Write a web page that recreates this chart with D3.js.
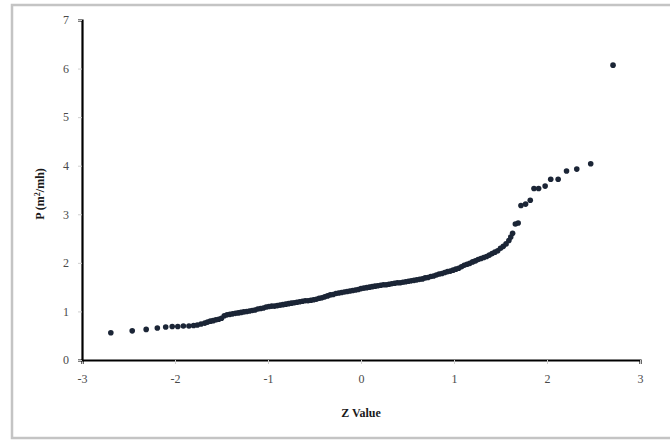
<!DOCTYPE html>
<html>
<head>
<meta charset="utf-8">
<script src="https://cdn.jsdelivr.net/npm/d3@7"></script>
<style>
  body { margin: 0; background: #fff; }
</style>
</head>
<body>
<script>
// normal probability plot values
var zValues = [
  -2.69, -2.46, -2.31, -2.19, -2.10, -2.03, -1.97, -1.91, -1.85, -1.80, -1.76, -1.72, -1.68, -1.65,
  -1.62, -1.59, -1.56, -1.53, -1.50, -1.47, -1.44, -1.41, -1.38, -1.35, -1.32, -1.29, -1.26, -1.23,
  -1.20, -1.17, -1.14, -1.11, -1.08, -1.05, -1.02, -0.99, -0.96, -0.93, -0.90, -0.87, -0.84, -0.81,
  -0.78, -0.75, -0.72, -0.69, -0.66, -0.63, -0.60, -0.57, -0.54, -0.51, -0.48, -0.45, -0.42, -0.39,
  -0.36, -0.33, -0.30, -0.27, -0.24, -0.21, -0.18, -0.15, -0.12, -0.09, -0.06, -0.03, 0.00, 0.03,
  0.06, 0.09, 0.12, 0.15, 0.18, 0.21, 0.24, 0.27, 0.30, 0.33, 0.36, 0.39, 0.42, 0.45, 0.48, 0.51,
  0.54, 0.57, 0.60, 0.63, 0.66, 0.69, 0.72, 0.75, 0.78, 0.81, 0.84, 0.87, 0.90, 0.93, 0.96, 0.99,
  1.02, 1.05, 1.08, 1.11, 1.14, 1.17, 1.20, 1.23, 1.26, 1.29, 1.32, 1.35, 1.38, 1.41, 1.44, 1.47,
  1.50, 1.53, 1.56,
  1.59, 1.61, 1.63, 1.66, 1.69, 1.72, 1.77, 1.82, 1.86, 1.91, 1.98, 2.04, 2.12, 2.21, 2.32, 2.47, 2.71
];
var pValues = [
  0.56, 0.60, 0.63, 0.66, 0.68, 0.69, 0.69, 0.70, 0.70, 0.71, 0.72, 0.74, 0.76, 0.78,
  0.80, 0.81, 0.83, 0.84, 0.86, 0.91, 0.93, 0.94, 0.95, 0.96, 0.97, 0.98, 0.99, 1.00,
  1.01, 1.02, 1.03, 1.05, 1.06, 1.07, 1.09, 1.10, 1.11, 1.11, 1.12, 1.13, 1.14, 1.15,
  1.16, 1.17, 1.18, 1.19, 1.20, 1.21, 1.22, 1.22, 1.23, 1.24, 1.25, 1.27, 1.28, 1.30,
  1.32, 1.34, 1.35, 1.37, 1.38, 1.39, 1.40, 1.41, 1.42, 1.43, 1.44, 1.45, 1.47, 1.48,
  1.49, 1.50, 1.51, 1.52, 1.53, 1.54, 1.55, 1.55, 1.56, 1.57, 1.58, 1.59, 1.59, 1.60, 1.61, 1.62,
  1.63, 1.64, 1.65, 1.66, 1.67, 1.69, 1.70, 1.72, 1.73, 1.75, 1.77, 1.78, 1.80, 1.82, 1.83, 1.85,
  1.87, 1.89, 1.92, 1.95, 1.97, 1.99, 2.02, 2.04, 2.07, 2.09, 2.11, 2.13, 2.16, 2.19, 2.22, 2.25,
  2.30, 2.34, 2.39,
  2.46, 2.53, 2.61, 2.80, 2.82, 3.18, 3.21, 3.29, 3.53, 3.53, 3.58, 3.72, 3.72, 3.89, 3.93, 4.04, 6.07
];
var xTicks = [-3, -2, -1, 0, 1, 2, 3],
    yTicks = [0, 1, 2, 3, 4, 5, 6, 7];

var svgWidth = 670,
    svgHeight = 440,
    plotLeft = 82,
    plotRight = 640,
    plotTop = 20,
    plotBottom = 360;

var svg = d3.select("body").append("svg")
            .attr("width", svgWidth)
            .attr("height", svgHeight);

// chart frame
svg.append("rect")
    .attr("x", 12).attr("y", 5)
    .attr("width", 670).attr("height", 433)
    .style("fill", "#fff")
    .style("stroke", "#c4c4c4")
    .style("stroke-width", 2.5);

var x = d3.scaleLinear().domain([-3, 3]).range([plotLeft, plotRight]),
    y = d3.scaleLinear().domain([0, 7]).range([plotBottom, plotTop]);

var xAxis = svg.append("g")
    .attr("transform", "translate(0," + plotBottom + ")")
    .call(d3.axisBottom(x).tickValues(xTicks).tickSize(4).tickPadding(10).tickFormat(function(d) { return String(d); }));

var yAxis = svg.append("g")
    .attr("transform", "translate(" + plotLeft + ",0)")
    .call(d3.axisLeft(y).tickValues(yTicks).tickSize(4).tickPadding(9).tickFormat(function(d) { return String(d); }));

[xAxis, yAxis].forEach(function(g) {
    g.select(".domain").style("stroke", "#000").style("stroke-width", 2.2);
    g.selectAll(".tick line").style("stroke", "#cfcfcf").style("stroke-width", 1);
    g.selectAll(".tick text")
        .style("font-family", "'Liberation Serif', serif")
        .style("font-size", "12px")
        .style("fill", "#4a4a4a");
});

svg.append("text")
    .attr("x", x(0))
    .attr("y", 417)
    .attr("text-anchor", "middle")
    .style("font-family", "'Liberation Serif', serif")
    .style("font-size", "12px")
    .style("font-weight", "bold")
    .style("fill", "#1a1a1a")
    .text("Z Value");

svg.append("text")
    .attr("transform", "translate(44," + 194 + ") rotate(-90)")
    .attr("text-anchor", "middle")
    .style("font-family", "'Liberation Serif', serif")
    .style("font-size", "12px")
    .style("font-weight", "bold")
    .style("fill", "#1a1a1a")
    .html("P (m<tspan dy='-4' font-size='8px'>2</tspan><tspan dy='4'>/mh)</tspan>");

svg.append("g")
    .selectAll("circle")
        .data(d3.zip(zValues, pValues))
        .enter()
            .append("circle")
                .attr("cx", function(d) { return x(d[0]); })
                .attr("cy", function(d) { return y(d[1]); })
                .attr("r", 2.8)
                .style("fill", "#1b2536");
</script>
</body>
</html>
